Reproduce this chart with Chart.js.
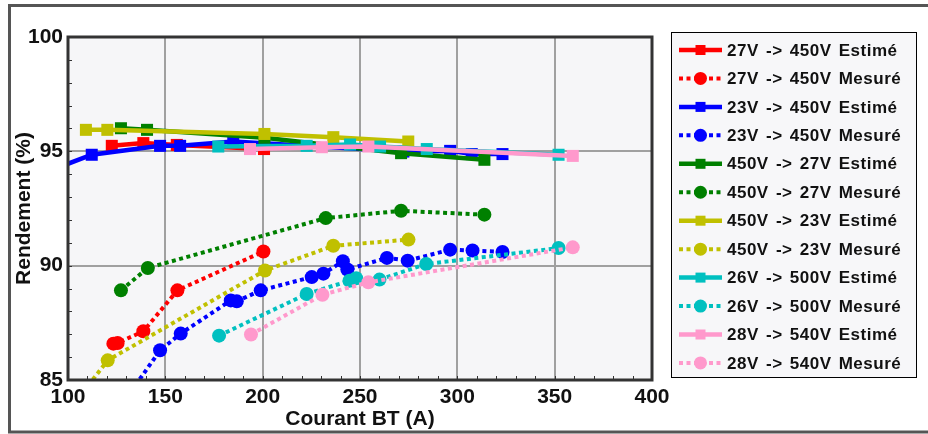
<!DOCTYPE html>
<html>
<head>
<meta charset="utf-8">
<script src="https://cdn.jsdelivr.net/npm/chart.js@4"></script>
<style>
  html, body { margin: 0; padding: 0; background: #fff; }
  #chart { display: block; }
</style>
</head>
<body>
<canvas id="chart" width="928" height="434"></canvas>
<script>
// Series names (legend order)
const seriesLabels = [
    '27V -> 450V Estimé', '27V -> 450V Mesuré',
    '23V -> 450V Estimé', '23V -> 450V Mesuré',
    '450V -> 27V Estimé', '450V -> 27V Mesuré',
    '450V -> 23V Estimé', '450V -> 23V Mesuré',
    '26V -> 500V Estimé', '26V -> 500V Mesuré',
    '28V -> 540V Estimé', '28V -> 540V Mesuré'
];
const seriesColors = [
    '#ff0000', '#ff0000', '#0000ff', '#0000ff', '#008000', '#008000',
    '#c0c000', '#c0c000', '#00c0c0', '#00c0c0', '#ff99cc', '#ff99cc'
];

// Courant BT (A) / Rendement (%)
const est27to450X = [122.5, 138.7, 155.9, 200.7];
const est27to450Y = [95.24, 95.36, 95.28, 95.1];
const mes27to450X = [123.3, 125.5, 138.7, 156.2, 200.4];
const mes27to450Y = [86.59, 86.62, 87.13, 88.92, 90.62];

const est23to450X = [92, 112.2, 147.3, 157.6, 184.9, 272.3, 296.3, 307.4, 323.2];
const est23to450Y = [94.2, 94.85, 95.24, 95.24, 95.43, 94.99, 95.02, 94.88, 94.88];
const mes23to450X = [128, 147.3, 157.9, 183.6, 186.7, 199, 225.2, 231.2, 241.2, 243.5, 263.8, 274.5, 296.3, 307.8, 323.2];
const mes23to450Y = [83.96, 86.3, 87.03, 88.48, 88.44, 88.92, 89.5, 89.65, 90.19, 89.83, 90.34, 90.22, 90.7, 90.66, 90.6];

const est450to27X = [127.2, 140.6, 200.9, 271.1, 313.9];
const est450to27Y = [96.01, 95.94, 95.59, 94.92, 94.63];
const mes450to27X = [127.2, 141.0, 232.4, 271.1, 313.9];
const mes450to27Y = [88.92, 89.9, 92.08, 92.4, 92.23];

const est450to23X = [109.2, 120.2, 200.9, 236.3, 274.8];
const est450to23Y = [95.94, 95.94, 95.76, 95.62, 95.43];
const mes450to23X = [108, 120.4, 201.2, 236.3, 274.9];
const mes450to23Y = [84.5, 85.86, 89.79, 90.87, 91.14];

const est26to500X = [177.2, 222.6, 244.9, 260.3, 284.3, 352];
const est26to500Y = [95.21, 95.24, 95.3, 95.21, 95.1, 94.85];
const mes26to500X = [177.6, 222.6, 244.6, 248, 260, 284, 352];
const mes26to500Y = [86.94, 88.76, 89.34, 89.45, 89.39, 90.07, 90.77];

const est28to540X = [193.5, 230.4, 254.3, 359.3];
const est28to540Y = [95.1, 95.18, 95.21, 94.8];
const mes28to540X = [194, 230.7, 254.3, 359.3];
const mes28to540Y = [86.99, 88.73, 89.27, 90.8];

const seriesX = [est27to450X, mes27to450X, est23to450X, mes23to450X, est450to27X, mes450to27X,
                 est450to23X, mes450to23X, est26to500X, mes26to500X, est28to540X, mes28to540X];
const seriesY = [est27to450Y, mes27to450Y, est23to450Y, mes23to450Y, est450to27Y, mes450to27Y,
                 est450to23Y, mes450to23Y, est26to500Y, mes26to500Y, est28to540Y, mes28to540Y];

const FONT = "'Liberation Sans', Arial, sans-serif";
const DOT_DASH = [4, 3.5];

const datasets = seriesLabels.map((label, i) => {
    const measured = i % 2 === 1;
    const color = seriesColors[i];
    return {
        label: label,
        data: seriesX[i].map((x, k) => ({ x: x, y: seriesY[i][k] })),
        borderColor: color,
        backgroundColor: color,
        borderWidth: measured ? 4 : 4.5,
        borderDash: measured ? DOT_DASH : [],
        borderCapStyle: 'butt',
        pointStyle: measured ? 'circle' : 'rect',
        pointRadius: measured ? 7 : 8.5,
        pointBorderWidth: 0,
        pointBackgroundColor: color,
        tension: 0,
        order: seriesLabels.length - i   // later series drawn on top
    };
});

// plot background, frames, inner minor ticks
const framePlugin = {
    id: 'frames',
    beforeDraw(chart) {
        const { ctx, chartArea: a } = chart;
        ctx.save();
        ctx.fillStyle = '#f6f6f8';
        ctx.fillRect(a.left, a.top, a.right - a.left, a.bottom - a.top);
        ctx.restore();
    },
    afterDraw(chart) {
        const { ctx, chartArea: a, scales } = chart;
        ctx.save();
        // inward tick marks
        ctx.strokeStyle = '#333';
        ctx.lineWidth = 1;
        scales.x.ticks.forEach(t => {
            const px = Math.round(scales.x.getPixelForValue(t.value)) + 0.5;
            ctx.beginPath();
            ctx.moveTo(px, a.bottom);
            ctx.lineTo(px, a.bottom - 4);
            ctx.stroke();
        });
        scales.y.ticks.forEach(t => {
            const py = Math.round(scales.y.getPixelForValue(t.value)) + 0.5;
            ctx.beginPath();
            ctx.moveTo(a.left, py);
            ctx.lineTo(a.left + 4, py);
            ctx.stroke();
        });
        // plot border
        ctx.strokeStyle = '#333';
        ctx.lineWidth = 3;
        ctx.strokeRect(a.left, a.top, a.right - a.left, a.bottom - a.top);
        // outer frame
        ctx.strokeStyle = '#555';
        ctx.lineWidth = 3;
        ctx.strokeRect(9.5, 5.5, 940, 426.5);
        ctx.restore();
    }
};

// legend box drawn from the datasets
const legendPlugin = {
    id: 'boxLegend',
    afterDraw(chart) {
        const ctx = chart.ctx;
        const box = { left: 671.5, top: 32.5, right: 916.5, bottom: 377.5 };
        ctx.save();
        ctx.fillStyle = '#f7f7f9';
        ctx.fillRect(box.left, box.top, box.right - box.left, box.bottom - box.top);
        ctx.strokeStyle = '#000';
        ctx.lineWidth = 1;
        ctx.strokeRect(box.left, box.top, box.right - box.left, box.bottom - box.top);

        chart.data.datasets.forEach((ds, i) => {
            const y = 50 + i * 28.45;
            const x0 = 679, x1 = 722, cx = (x0 + x1) / 2;
            ctx.strokeStyle = ds.borderColor;
            ctx.lineWidth = ds.borderWidth;
            ctx.lineCap = 'butt';
            ctx.setLineDash(ds.borderDash);
            ctx.beginPath();
            ctx.moveTo(x0, y);
            ctx.lineTo(x1, y);
            ctx.stroke();
            ctx.setLineDash([]);
            ctx.fillStyle = ds.borderColor;
            if (ds.pointStyle === 'rect') {
                ctx.fillRect(cx - 5, y - 5, 10, 10);
            } else {
                ctx.beginPath();
                ctx.arc(cx, y, 6.5, 0, Math.PI * 2);
                ctx.fill();
            }
            ctx.fillStyle = '#111';
            ctx.font = 'bold 17px ' + FONT;
            ctx.letterSpacing = '0.5px';
            ctx.wordSpacing = '2px';
            ctx.textBaseline = 'middle';
            ctx.textAlign = 'left';
            ctx.fillText(ds.label, 727, y + 1);
        });
        ctx.restore();
    }
};

new Chart(document.getElementById('chart'), {
    type: 'line',
    data: { datasets: datasets },
    options: {
        responsive: false,
        animation: false,
        layout: { padding: { left: 0, top: 37, right: 276, bottom: 0 } },
        plugins: {
            legend: { display: false },
            tooltip: { enabled: false }
        },
        scales: {
            x: {
                type: 'linear',
                min: 100,
                max: 400,
                afterFit: (scale) => { scale.height = 54; },
                border: { display: false },
                grid: {
                    drawTicks: false,
                    lineWidth: 2,
                    color: (c) => (c.tick && c.tick.value % 50 === 0) ? '#a0a0a0' : 'transparent'
                },
                ticks: {
                    stepSize: 10,
                    autoSkip: false,
                    maxRotation: 0,
                    padding: 5,
                    color: '#111',
                    font: { family: FONT, size: 21, weight: 'bold' },
                    callback: (v) => v % 50 === 0 ? String(v) : ''
                },
                title: {
                    display: true,
                    text: 'Courant BT (A)',
                    color: '#111',
                    font: { family: FONT, size: 21, weight: 'bold' },
                    padding: { top: 0, bottom: 2 }
                }
            },
            y: {
                min: 85,
                max: 100,
                afterFit: (scale) => { scale.width = 68; },
                border: { display: false },
                grid: {
                    drawTicks: false,
                    lineWidth: 2,
                    color: (c) => (c.tick && c.tick.value % 5 === 0) ? '#a0a0a0' : 'transparent'
                },
                ticks: {
                    stepSize: 1,
                    autoSkip: false,
                    padding: 5,
                    color: '#111',
                    font: { family: FONT, size: 21, weight: 'bold' },
                    callback: (v) => v % 5 === 0 ? String(v) : ''
                },
                title: {
                    display: true,
                    text: 'Rendement (%)',
                    color: '#111',
                    font: { family: FONT, size: 21, weight: 'bold' },
                    padding: { top: 12, bottom: 0 }
                }
            }
        }
    },
    plugins: [framePlugin, legendPlugin]
});
</script>
</body>
</html>
